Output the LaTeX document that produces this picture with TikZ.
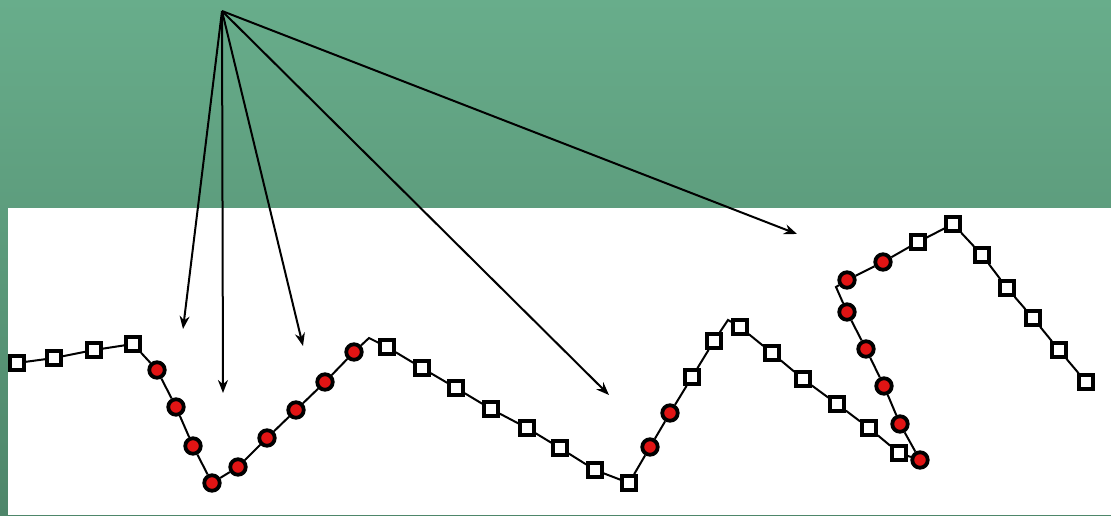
\documentclass[tikz,border=0pt]{standalone}
\usetikzlibrary{arrows.meta}
\definecolor{bandtop}{RGB}{104,173,139}
\definecolor{bandbot}{RGB}{78,134,106}
\definecolor{dotred}{RGB}{225,20,20}
\tikzset{
  sq/.style={draw=black,fill=white,line width=3.6pt,minimum size=14pt,inner sep=0pt},
  rd/.style={circle,draw=black,fill=dotred,line width=3.8pt,minimum size=15.5pt,inner sep=0pt},
  ptr/.style={-{Stealth[length=13pt,width=10pt]},line width=2pt},
  trace/.style={line width=2pt}
}
\begin{document}
\begin{tikzpicture}[x=1pt,y=-1pt]
\useasboundingbox (0,0) rectangle (1111,515);
\shade [top color=bandtop,bottom color=bandbot] (0,0) rectangle (1111,515);
\fill [white] (8,208) rectangle (1111,515);
\node [sq] (s1) at (17,363) {};
\node [sq] (s2) at (54,358) {};
\node [sq] (s3) at (94,350) {};
\node [sq] (s4) at (133,344) {};
\node [rd] (r1) at (157,370) {};
\node [rd] (r2) at (176,407) {};
\node [rd] (r3) at (193,446) {};
\node [rd] (r4) at (212,483) {};
\node [rd] (r5) at (238,467) {};
\node [rd] (r6) at (267,438) {};
\node [rd] (r7) at (296,410) {};
\node [rd] (r8) at (325,382) {};
\node [rd] (r9) at (354,352) {};
\coordinate (k1) at (369,338);
\node [sq] (s5) at (387,347) {};
\node [sq] (s6) at (422,368) {};
\node [sq] (s7) at (456,388) {};
\node [sq] (s8) at (491,409) {};
\node [sq] (s9) at (527,428) {};
\node [sq] (s10) at (560,448) {};
\node [sq] (s11) at (595,470) {};
\node [sq] (s12) at (629,483) {};
\node [rd] (r10) at (650,447) {};
\node [rd] (r11) at (670,413) {};
\node [sq] (s13) at (692,377) {};
\node [sq] (s14) at (714,341) {};
\coordinate (k2) at (728,320);
\node [sq] (s15) at (740,327) {};
\node [sq] (s16) at (772,353) {};
\node [sq] (s17) at (803,379) {};
\node [sq] (s18) at (837,404) {};
\node [sq] (s19) at (869,428) {};
\node [sq] (s20) at (899,453) {};
\node [rd] (r12) at (920,460) {};
\node [rd] (r13) at (900,424) {};
\node [rd] (r14) at (884,386) {};
\node [rd] (r15) at (866,349) {};
\node [rd] (r16) at (847,312) {};
\coordinate (k3) at (836,287);
\node [rd] (r17) at (847,280) {};
\node [rd] (r18) at (883,262) {};
\node [sq] (s21) at (918,242) {};
\node [sq] (s22) at (953,224) {};
\node [sq] (s23) at (982,255) {};
\node [sq] (s24) at (1007,288) {};
\node [sq] (s25) at (1033,318) {};
\node [sq] (s26) at (1059,350) {};
\node [sq] (s27) at (1086,382) {};
\draw [trace] (s1) -- (s2) -- (s3) -- (s4) -- (r1) -- (r2) -- (r3) -- (r4)
  -- (r5) -- (r6) -- (r7) -- (r8) -- (r9) -- (k1) -- (s5) -- (s6) -- (s7)
  -- (s8) -- (s9) -- (s10) -- (s11) -- (s12) -- (r10) -- (r11) -- (s13)
  -- (s14) -- (k2) -- (s15) -- (s16) -- (s17) -- (s18) -- (s19) -- (s20)
  -- (r12) -- (r13) -- (r14) -- (r15) -- (r16) -- (k3) -- (r17) -- (r18)
  -- (s21) -- (s22) -- (s23) -- (s24) -- (s25) -- (s26) -- (s27);
\coordinate (src) at (222,11);
\coordinate (t1) at (183,329);
\coordinate (t2) at (223,393);
\coordinate (t3) at (303,346);
\coordinate (t4) at (609,395);
\coordinate (t5) at (797,234);
\draw [ptr] (src) -- (t1);
\draw [ptr] (src) -- (t2);
\draw [ptr] (src) -- (t3);
\draw [ptr] (src) -- (t4);
\draw [ptr] (src) -- (t5);
\end{tikzpicture}
\end{document}
